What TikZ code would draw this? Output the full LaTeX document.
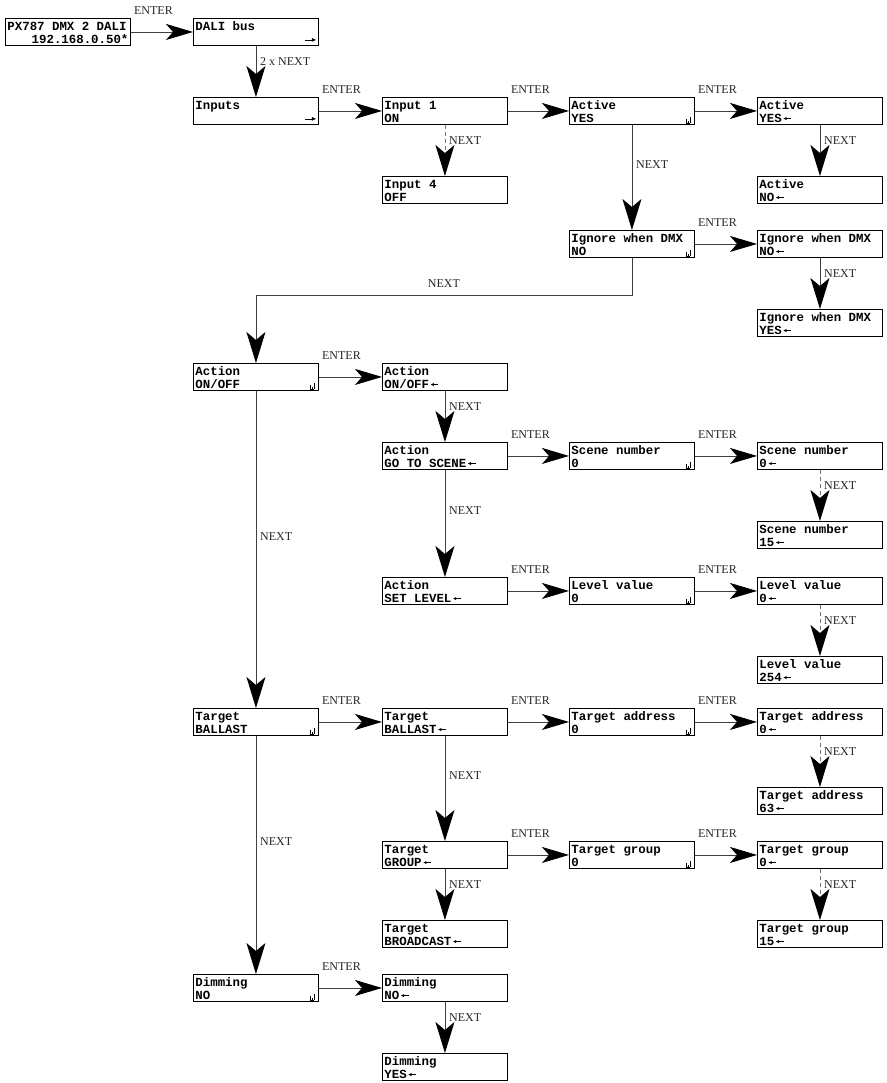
\documentclass[tikz,border=0pt]{standalone}
\usepackage{fontspec}
\setmainfont{Liberation Serif}
\newfontfamily\lcdfont{Liberation Mono}
\usetikzlibrary{arrows.meta,calc}

% two-line display content, fixed 125 x 27 box
\newcommand\lcd[2]{\vbox to 27bp{\offinterlineskip\hsize=125bp\kern12.3bp
  \hbox to 125bp{\hskip2bp\smash{#1}\hss}\kern12.4bp
  \hbox to 125bp{\hskip2bp\smash{#2}\hss}\vss}}
% small selection arrow after a value
\newcommand\selarrow{\kern1bp\tikz[baseline=0pt]\draw[line width=0.7bp,black,{Latex[length=3.4bp,width=3.2bp]}-] (0bp,3.6bp) -- (8bp,3.6bp);}
% small right arrow at the lower right corner of a menu screen
\newcommand\menuarrow[1]{\draw[line width=0.8bp,-{Latex[length=4.5bp,width=4bp]}] ($(#1.south east)+(-14,-6)$) -- ($(#1.south east)+(-2.5,-6)$);}
% small bar icon at the lower right corner of a setting screen
\newcommand\sigicon[1]{\draw[line width=0.6bp]
  ($(#1.south east)+(-9,-2)$) -- ++(0,-3.5)
  ($(#1.south east)+(-7,-2)$) -- ++(0,-2)
  ($(#1.south east)+(-5,-2)$) -- ++(0,-5.5)
  ($(#1.south east)+(-9.3,-2)$) -- ++(4.6,0);}
% ENTER transition between screens in one row
\newcommand\enterlink[2]{%
  \draw[conn,harr] (#1.east) -- (#2.west);
  \node[lbl,anchor=base west] (#1-#2) at ($(#1.north east)+(3,-3.5)$) {ENTER};}
% short NEXT transition to the screen below
\newcommand\nextshort[3][conn]{%
  \draw[#1,varr] (#2.south) -- (#3.north);
  \node[lbl,anchor=base west] (#2-#3) at ($(#3.north)+(4,-32)$) {NEXT};}
% long NEXT transition, label at mid height
\newcommand\nextlong[2]{%
  \draw[conn,varr] (#1.south) -- (#2.north);
  \node[lbl,anchor=base west] (#1-#2) at ($(#1.south)!0.5!(#2.north)+(4,-9)$) {NEXT};}

\begin{document}
\begin{tikzpicture}[x=1bp,y=-1bp,
  lcd/.style={draw=black,line width=0.9bp,inner sep=0pt,anchor=north west,
    font=\fontsize{12.4bp}{12.4bp}\lcdfont\bfseries},
  lbl/.style={font=\fontsize{12bp}{12bp}\selectfont,text=black!85,inner sep=0pt},
  conn/.style={draw=black!75,line width=0.9bp},
  dconn/.style={draw=black!55,line width=0.9bp,dash pattern=on 4bp off 3bp},
  harr/.style={-{Stealth[length=27bp,width=16bp,inset=7bp,color=black]}},
  varr/.style={-{Stealth[length=31bp,width=19bp,inset=8bp,color=black]}}]
\useasboundingbox (0,0) rectangle (887,1083);

% screens
\node[lcd] (px) at (5,18) {\lcd{PX787 DMX 2 DALI}{\hbox to 121bp{\hfill 192.168.0.50*}}};
\node[lcd] (dali) at (193,18) {\lcd{DALI bus}{}};

\node[lcd] (inputs) at (193,97) {\lcd{Inputs}{}};
\node[lcd] (in1) at (382,97) {\lcd{Input 1}{ON}};
\node[lcd] (act) at (569,97) {\lcd{Active}{YES}};
\node[lcd] (actY) at (757,97) {\lcd{Active}{YES\selarrow}};

\node[lcd] (in4) at (382,176) {\lcd{Input 4}{OFF}};
\node[lcd] (actN) at (757,176) {\lcd{Active}{NO\selarrow}};

\node[lcd] (ign) at (569,230) {\lcd{Ignore when DMX}{NO}};
\node[lcd] (ignN) at (757,230) {\lcd{Ignore when DMX}{NO\selarrow}};
\node[lcd] (ignY) at (757,309) {\lcd{Ignore when DMX}{YES\selarrow}};

\node[lcd] (actA) at (193,363) {\lcd{Action}{ON/OFF}};
\node[lcd] (actB) at (382,363) {\lcd{Action}{ON/OFF\selarrow}};

\node[lcd] (scene) at (382,442) {\lcd{Action}{GO TO SCENE\selarrow}};
\node[lcd] (scn) at (569,442) {\lcd{Scene number}{0}};
\node[lcd] (scn0) at (757,442) {\lcd{Scene number}{0\selarrow}};
\node[lcd] (scn15) at (757,521) {\lcd{Scene number}{15\selarrow}};

\node[lcd] (lvlB) at (382,577) {\lcd{Action}{SET LEVEL\selarrow}};
\node[lcd] (lvl) at (569,577) {\lcd{Level value}{0}};
\node[lcd] (lvl0) at (757,577) {\lcd{Level value}{0\selarrow}};
\node[lcd] (lvl254) at (757,656) {\lcd{Level value}{254\selarrow}};

\node[lcd] (tgtA) at (193,708) {\lcd{Target}{BALLAST}};
\node[lcd] (tgtB) at (382,708) {\lcd{Target}{BALLAST\selarrow}};
\node[lcd] (taddr) at (569,708) {\lcd{Target address}{0}};
\node[lcd] (taddr0) at (757,708) {\lcd{Target address}{0\selarrow}};
\node[lcd] (taddr63) at (757,787) {\lcd{Target address}{63\selarrow}};

\node[lcd] (tgrpB) at (382,841) {\lcd{Target}{GROUP\selarrow}};
\node[lcd] (tgrp) at (569,841) {\lcd{Target group}{0}};
\node[lcd] (tgrp0) at (757,841) {\lcd{Target group}{0\selarrow}};
\node[lcd] (tgrp15) at (757,920) {\lcd{Target group}{15\selarrow}};
\node[lcd] (tbroad) at (382,920) {\lcd{Target}{BROADCAST\selarrow}};

\node[lcd] (dimA) at (193,974) {\lcd{Dimming}{NO}};
\node[lcd] (dimB) at (382,974) {\lcd{Dimming}{NO\selarrow}};
\node[lcd] (dimY) at (382,1053) {\lcd{Dimming}{YES\selarrow}};

% corner icons
\menuarrow{dali}
\menuarrow{inputs}
\foreach \n in {act,ign,actA,scn,lvl,tgtA,taddr,tgrp,dimA} {\sigicon{\n}}

% transitions
\enterlink{px}{dali}
\draw[conn,varr] (dali.south) -- (inputs.north);
\node[lbl,anchor=base west] (dali-inputs) at ($(inputs.north)+(4,-32)$) {2 x NEXT};

\enterlink{inputs}{in1}
\nextshort[dconn]{in1}{in4}
\enterlink{in1}{act}
\enterlink{act}{actY}
\nextshort{actY}{actN}
\nextlong{act}{ign}
\enterlink{ign}{ignN}
\nextshort{ignN}{ignY}

\draw[conn,varr] (ign.south) -- ++(0,38) -| (actA.north);
\node[lbl,anchor=base] (ign-actA) at ($(ign.south)!0.5!(actA.north)+(0,-23)$) {NEXT};

\enterlink{actA}{actB}
\nextshort{actB}{scene}
\enterlink{scene}{scn}
\enterlink{scn}{scn0}
\nextshort[dconn]{scn0}{scn15}
\nextlong{scene}{lvlB}
\enterlink{lvlB}{lvl}
\enterlink{lvl}{lvl0}
\nextshort[dconn]{lvl0}{lvl254}

\nextlong{actA}{tgtA}
\enterlink{tgtA}{tgtB}
\enterlink{tgtB}{taddr}
\enterlink{taddr}{taddr0}
\nextshort[dconn]{taddr0}{taddr63}
\nextlong{tgtB}{tgrpB}
\enterlink{tgrpB}{tgrp}
\enterlink{tgrp}{tgrp0}
\nextshort[dconn]{tgrp0}{tgrp15}
\nextshort{tgrpB}{tbroad}

\nextlong{tgtA}{dimA}
\enterlink{dimA}{dimB}
\nextshort{dimB}{dimY}
\end{tikzpicture}
\end{document}
